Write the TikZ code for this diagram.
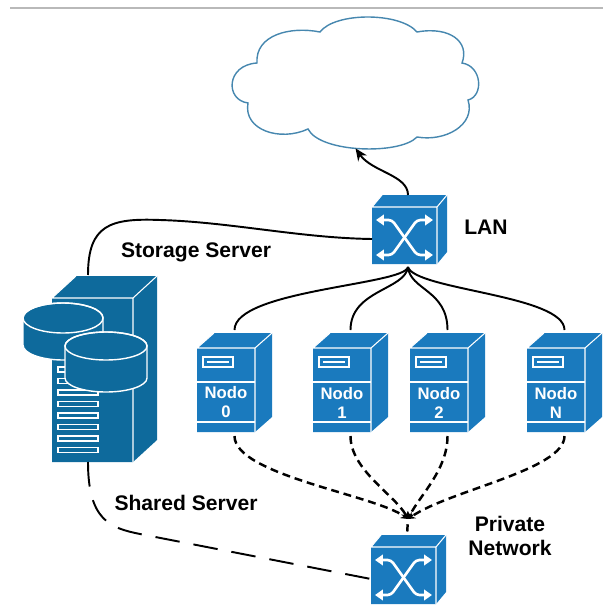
\documentclass[tikz,border=0pt]{standalone}
\usepackage{fontspec}
\setmainfont{Liberation Sans}
\usetikzlibrary{arrows.meta}
\definecolor{storblue}{RGB}{14,106,156}
\definecolor{netblue}{RGB}{26,122,190}
\definecolor{cloudline}{RGB}{70,135,175}

% cylinder: centre x, top y, bottom y, x radius, y radius
\newcommand{\drum}[5]{
  \filldraw[fill=storblue, draw=white, line width=0.8pt] (#1-#4,#2) -- (#1-#4,#3)
    arc[start angle=180, end angle=0, x radius=#4, y radius=#5] -- (#1+#4,#2)
    arc[start angle=0, end angle=-180, x radius=#4, y radius=#5] -- cycle;
  \draw[white, line width=0.8pt] (#1,#2) ellipse [x radius=#4, y radius=#5];
}

\tikzset{
  lanlink/.style={line width=1.1pt},
  privlink/.style={line width=1.4pt, dash pattern=on 4.5pt off 2.8pt, -{Stealth[length=4pt,width=4.5pt]}},
  sharedlink/.style={line width=1.1pt, dash pattern=on 14pt off 8pt},
  lbl/.style={font=\bfseries\fontsize{12}{13.3}\selectfont, align=center},
  nodotext/.style={white, font=\bfseries\fontsize{9.5}{10.8}\selectfont, align=center, inner sep=0pt},
  faceline/.style={white, line width=0.6pt},
  xarrow/.style={white, line width=1.5pt, rounded corners=2pt, {Triangle[length=4.5pt,width=6pt]}-{Triangle[length=4.5pt,width=6pt]}},
  pics/switchbox/.style={code={
    \fill[netblue] (0,0) -- (10,-12) -- (75,-12) -- (75,45) -- (65,57) -- (0,57) -- cycle;
    \draw[faceline] (0,0) -- (65,0) -- (65,57) (0,0) -- (10,-12) (65,0) -- (75,-12);
    \draw[xarrow] (4,13) -- (20,13) -- (45,48) -- (61,48);
    \draw[xarrow] (4,48) -- (20,48) -- (45,13) -- (61,13);
    \coordinate (-top) at (36,-12);
    \coordinate (-bot) at (36,60);
    \coordinate (-left) at (0,32);
  }},
  pics/nodobox/.style={code={
    \fill[netblue] (0,0) -- (17,-15) -- (75,-15) -- (75,69) -- (58,84) -- (0,84) -- cycle;
    \draw[faceline] (0,0) -- (58,0) -- (58,84) (0,0) -- (17,-15) (58,0) -- (75,-15);
    \draw[faceline] (0,34) -- (58,34) (0,74) -- (58,74);
    \draw[white, line width=0.8pt] (6,9) rectangle (36,19) (10,14) -- (32,14);
    \node[nodotext] (-lbl) at (29,54.5) {Nodo\\#1};
    \coordinate (-top) at (37.5,-18);
    \coordinate (-bot) at (37.5,88);
  }},
  pics/storbox/.style={code={
    \fill[storblue] (0,0) -- (24,-22) -- (105,-22) -- (105,142) -- (81,164) -- (0,164) -- cycle;
    \draw[faceline] (0,0) -- (81,0) -- (81,164) (0,0) -- (24,-22) (81,0) -- (105,-22);
    \foreach \i in {0,...,7}
      \draw[white, line width=0.8pt] (6,69+11.5*\i) rectangle (46,74+11.5*\i);
    \drum{11}{20}{47}{40}{15}
    \drum{54}{48}{80}{41}{14}
    \coordinate (-top) at (36,-23);
    \coordinate (-bot) at (36,164);
  }}
}

\begin{document}
\begin{tikzpicture}[x=0.02cm, y=-0.02cm]
\useasboundingbox (0,0) rectangle (603,608);
\draw[gray!55, line width=0.6pt] (10,8) -- (603,8);

% internet
\draw[cloudline, line width=0.8pt, fill=white] (257,63) .. controls (255,35) and (290,26) .. (320,32)
  .. controls (335,12) and (400,12) .. (417,32) .. controls (450,26) and (470,42) .. (462,63)
  .. controls (482,66) and (484,96) .. (468,100) .. controls (476,125) and (445,142) .. (417,137)
  .. controls (400,155) and (320,153) .. (308,129) .. controls (280,142) and (243,130) .. (248,103)
  .. controls (225,100) and (226,65) .. (257,63) -- cycle;
\node[minimum width=4.9cm, minimum height=2.62cm] (inet) at (355.5,82.5) {};

\pic (lan) at (372,207) {switchbox};
\pic (pvt) at (371,547) {switchbox};
\pic (stor) at (52,298) {storbox};
\pic (n0) at (197,348) {nodobox=0};
\pic (n1) at (313,348) {nodobox=1};
\pic (n2) at (410,348) {nodobox=2};
\pic (nN) at (527,348) {nodobox=N};

\node[lbl] (storlbl) at (196,252) {Storage Server};
\node[lbl] (lanlbl) at (486,227) {LAN};
\node[lbl] (sharedlbl) at (186,503) {Shared Server};
\node[lbl] (pvtlbl) at (510,536) {Private\\Network};

\draw[lanlink, -{Stealth[length=7pt,width=6pt]}] (lan-top) .. controls (408,175) and (372,172) .. (inet.south);
\draw[lanlink] (stor-top) .. controls (88,225) and (110,218) .. (160,220) .. controls (230,222) and (300,238) .. (lan-left);
\draw[lanlink] (lan-bot) .. controls (405,285) and (234.5,290) .. (n0-top);
\draw[lanlink] (lan-bot) .. controls (405,290) and (350.5,290) .. (n1-top);
\draw[lanlink] (lan-bot) .. controls (410,290) and (447.5,290) .. (n2-top);
\draw[lanlink] (lan-bot) .. controls (415,290) and (564.5,295) .. (nN-top);

\coordinate (pvhub) at (408,519);
\draw[privlink] (n0-bot) .. controls (234.5,475) and (375,495) .. (pvhub);
\draw[privlink] (n1-bot) .. controls (350.5,470) and (395,495) .. (pvhub);
\draw[privlink] (n2-bot) .. controls (447.5,470) and (420,495) .. (pvhub);
\draw[privlink] (nN-bot) .. controls (564.5,470) and (450,490) .. (pvhub);
\draw[line width=1.4pt, shorten <=3pt, shorten >=2pt] (pvhub) -- (pvt-top);
\draw[sharedlink] (stor-bot) .. controls (88,520) and (110,528) .. (140,534) -- (pvt-left);
\end{tikzpicture}
\end{document}
